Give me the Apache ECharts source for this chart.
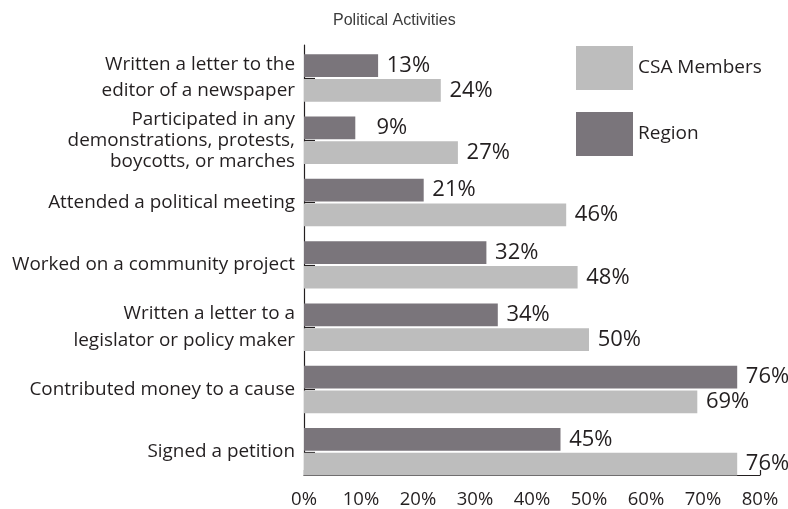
<!DOCTYPE html>
<html>
<head>
<meta charset="utf-8">
<script src="https://cdn.jsdelivr.net/npm/echarts@6/dist/echarts.min.js"></script>
<style>
  html, body { margin: 0; padding: 0; background: #ffffff; }
  #chart { width: 788px; height: 509px; }
</style>
</head>
<body>
<div id="chart"></div>
<script>
// Survey activities, listed top to bottom
const categories = [
  'Written a letter to the\neditor of a newspaper',
  'Participated in any\ndemonstrations, protests,\nboycotts, or marches',
  'Attended a political meeting',
  'Worked on a community project',
  'Written a letter to a\nlegislator or policy maker',
  'Contributed money to a cause',
  'Signed a petition'
];
// Per-label line spacing for the wrapped labels
const labelLineHeights = [26, 21, 22, 22, 27, 22, 22];

// Percent of respondents
const regionValues = [13, 9, 21, 32, 34, 76, 45];
const csaValues = [24, 27, 46, 48, 50, 69, 76];

const xTicks = { min: 0, max: 80, interval: 10 };

const LABEL_FONT = '"Open Sans", "Noto Sans", sans-serif';
const INK = '#231f20';
const DARK = '#7a757b';
const LIGHT = '#bdbdbd';

const chart = echarts.init(document.getElementById('chart'), null, { renderer: 'canvas' });

const valueLabel = {
  show: true,
  position: 'right',
  distance: 4,
  formatter: p => '{v|' + p.value + '%}',
  rich: {
    v: {
      width: 48,
      align: 'right',
      fontFamily: LABEL_FONT,
      fontSize: 22,
      color: INK
    }
  }
};

chart.setOption({
  animation: false,
  backgroundColor: '#ffffff',
  title: {
    text: 'Political Activities',
    left: 333,
    top: 13,
    padding: 0,
    textStyle: {
      fontFamily: '"Liberation Sans", Arial, sans-serif',
      fontSize: 16,
      fontWeight: 'normal',
      color: '#3c3c3c'
    }
  },
  legend: {
    data: ['CSA Members', 'Region'],
    orient: 'vertical',
    left: 576,
    top: 46,
    padding: 0,
    itemWidth: 57,
    itemHeight: 44,
    itemGap: 22,
    icon: 'rect',
    selectedMode: false,
    textStyle: {
      fontFamily: LABEL_FONT,
      fontSize: 19,
      color: INK
    }
  },
  grid: [
    // bars
    { left: 304, right: 28, top: 46.8, bottom: 26, containLabel: false },
    // frame axes
    { left: 304, right: 28, top: 45, bottom: 33, containLabel: false }
  ],
  xAxis: [
    {
      gridIndex: 0,
      type: 'value',
      min: xTicks.min, max: xTicks.max, interval: xTicks.interval,
      show: false
    },
    {
      gridIndex: 1,
      type: 'value',
      min: xTicks.min, max: xTicks.max, interval: xTicks.interval,
      axisLine: { show: true, lineStyle: { color: INK, width: 1.2 } },
      axisTick: { show: true, inside: true, length: 5, lineStyle: { color: INK, width: 1.2 } },
      splitLine: { show: false },
      axisLabel: {
        formatter: '{value}%',
        margin: 15,
        fontFamily: LABEL_FONT,
        fontSize: 18.5,
        color: INK
      }
    }
  ],
  yAxis: [
    {
      gridIndex: 0,
      type: 'category',
      inverse: true,
      data: categories.map((c, i) => ({
        value: c,
        textStyle: { lineHeight: labelLineHeights[i] }
      })),
      axisLine: { show: false },
      axisTick: {
        show: true, inside: true, alignWithLabel: true, length: 11,
        lineStyle: { color: INK, width: 1.2 }
      },
      axisLabel: {
        margin: 9,
        align: 'right',
        fontFamily: LABEL_FONT,
        fontSize: 18.9,
        color: INK
      }
    },
    {
      gridIndex: 1,
      type: 'value',
      min: 0, max: 1,
      axisLine: { show: true, lineStyle: { color: INK, width: 1.2 } },
      axisTick: { show: false },
      axisLabel: { show: false },
      splitLine: { show: false }
    }
  ],
  series: [
    {
      name: 'Region',
      type: 'bar',
      xAxisIndex: 0,
      yAxisIndex: 0,
      data: regionValues,
      barWidth: 22.7,
      barGap: '9%',
      itemStyle: { color: DARK },
      label: valueLabel,
      z: 1
    },
    {
      name: 'CSA Members',
      type: 'bar',
      xAxisIndex: 0,
      yAxisIndex: 0,
      data: csaValues,
      barWidth: 22.7,
      barGap: '9%',
      itemStyle: { color: LIGHT },
      label: valueLabel,
      z: 1
    }
  ]
});
</script>
</body>
</html>
